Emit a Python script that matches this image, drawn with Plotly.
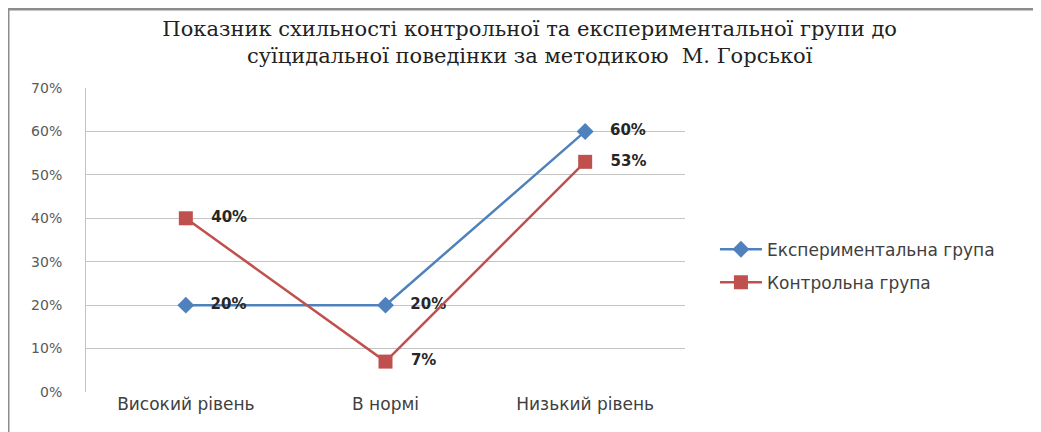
import plotly.graph_objects as go

categories = ["Високий рівень", "В нормі", "Низький рівень"]
exp_values = [0.20, 0.20, 0.60]
ctrl_values = [0.40, 0.07, 0.53]
exp_name = "Експериментальна група"
ctrl_name = "Контрольна група"
title_text = "Показник схильності контрольної та експериментальної групи до<br>суїцидальної поведінки за методикою  М. Горської"
y_ticks = [0, 0.1, 0.2, 0.3, 0.4, 0.5, 0.6, 0.7]

# page body has an 8px margin, so figure is 8px smaller and coords shifted by -8
W, H = 1033, 424
L, R, T, B = 78, 677, 80, 384

label_font = dict(family="DejaVu Sans", size=15, color="#262626", weight="bold")

fig = go.Figure()
fig.add_trace(go.Scatter(
    x=categories, y=exp_values, name=exp_name, legendgroup="a",
    mode="lines+markers+text",
    line=dict(color="#4F81BD", width=2.5),
    marker=dict(symbol="diamond", size=13, color="#4F81BD"),
    text=["   " + f"{v:.0%}" for v in exp_values],
    textposition="middle right",
    textfont=label_font,
))
fig.add_trace(go.Scatter(
    x=categories, y=ctrl_values, name=ctrl_name, legendgroup="b",
    mode="lines+markers+text",
    line=dict(color="#C0504D", width=2.5),
    marker=dict(symbol="square", size=14, color="#C0504D"),
    text=["   " + f"{v:.0%}" for v in ctrl_values],
    textposition="middle right",
    textfont=label_font,
))

fig.update_layout(
    width=W, height=H,
    margin=dict(l=L, r=W - R, t=T, b=H - B, pad=0),
    paper_bgcolor="white", plot_bgcolor="white",
    title=dict(text=title_text, x=0.505, xanchor="center", y=0.935, yanchor="middle",
               font=dict(family="DejaVu Serif", size=21, color="#222222")),
    showlegend=True,
    legend=dict(x=1.05, xanchor="left", y=0.414, yanchor="middle",
                font=dict(family="DejaVu Sans", size=17, color="#404040"),
                traceorder="grouped", tracegroupgap=8,
                itemwidth=42, bgcolor="rgba(0,0,0,0)"),
    xaxis=dict(type="category", range=[-0.5, 2.5], showgrid=False, zeroline=False,
               showline=False, ticks="",
               tickfont=dict(family="DejaVu Sans", size=17, color="#404040")),
    yaxis=dict(range=[0, 0.7], tickvals=y_ticks, tickformat=".0%",
               showgrid=True, gridcolor="#C4C4C4", gridwidth=1, zeroline=False,
               showline=True, linecolor="#C4C4C4", linewidth=1,
               ticks="outside", ticklen=20, tickcolor="rgba(0,0,0,0)",
               tickfont=dict(family="DejaVu Sans", size=14, color="#595959")),
    shapes=[
        dict(type="line", xref="paper", yref="paper",
             x0=(0 - L) / (R - L), x1=(W - L) / (R - L),
             y0=(B - 1) / (B - T), y1=(B - 1) / (B - T),
             line=dict(color="#8C8C8C", width=3)),
        dict(type="line", xref="paper", yref="paper",
             x0=(0 - L) / (R - L), x1=(0 - L) / (R - L),
             y0=(B - H) / (B - T), y1=(B - 0) / (B - T),
             line=dict(color="#8C8C8C", width=3)),
    ],
)

fig.write_html("out.html")
